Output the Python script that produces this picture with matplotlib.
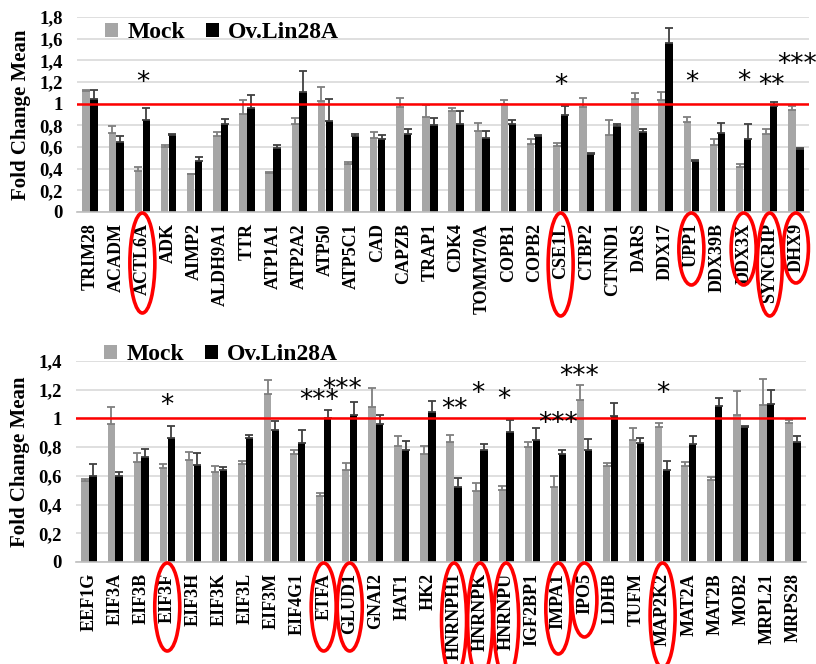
import numpy as np
import matplotlib
matplotlib.use("Agg")
import matplotlib.pyplot as plt
from matplotlib.patches import Ellipse
from matplotlib.transforms import IdentityTransform
from matplotlib.ticker import FuncFormatter, MultipleLocator

# ---------------- data ----------------
top_genes = ["TRIM28", "ACADM", "ACTL6A", "ADK", "AIMP2", "ALDH9A1", "TTR", "ATP1A1",
             "ATP2A2", "ATP50", "ATP5C1", "CAD", "CAPZB", "TRAP1", "CDK4", "TOMM70A",
             "COPB1", "COPB2", "CSE1L", "CTBP2", "CTNND1", "DARS", "DDX17", "UPP1",
             "DDX39B", "DDX3X", "SYNCRIP", "DHX9"]
top_mock = [1.12, 0.73, 0.38, 0.60, 0.35, 0.70, 0.90, 0.36, 0.81, 1.02, 0.44, 0.68, 0.97, 0.88,
            0.93, 0.75, 1.00, 0.63, 0.61, 0.97, 0.71, 1.04, 1.03, 0.83, 0.62, 0.42, 0.72, 0.94]
top_mock_err = [0.005, 0.06, 0.04, 0.02, 0.005, 0.04, 0.13, 0.013, 0.055, 0.13, 0.02, 0.055,
                0.085, 0.11, 0.03, 0.07, 0.03, 0.043, 0.025, 0.08, 0.14, 0.056, 0.075, 0.043,
                0.05, 0.02, 0.05, 0.037]
top_ov = [1.04, 0.65, 0.85, 0.71, 0.475, 0.815, 0.96, 0.59, 1.105, 0.84, 0.70, 0.67, 0.72, 0.80,
          0.815, 0.68, 0.815, 0.70, 0.895, 0.537, 0.79, 0.74, 1.556, 0.47, 0.73, 0.673, 0.975, 0.586]
top_ov_err = [0.09, 0.05, 0.11, 0.01, 0.03, 0.04, 0.12, 0.025, 0.20, 0.20, 0.02, 0.04, 0.045,
              0.07, 0.12, 0.07, 0.03, 0.012, 0.087, 0.004, 0.025, 0.025, 0.14, 0.012, 0.09,
              0.136, 0.04, 0.005]
top_sig = {"ACTL6A": "*", "CSE1L": "*", "UPP1": "*", "DDX3X": "*", "SYNCRIP": "**", "DHX9": "***"}

bot_genes = ["EEF1G", "EIF3A", "EIF3B", "EIF3F", "EIF3H", "EIF3K", "EIF3L", "EIF3M", "EIF4G1",
             "ETFA", "GLUD1", "GNAI2", "HAT1", "HK2", "HNRNPH1", "HNRNPK", "HNRNPU", "IGF2BP1",
             "IMPA1", "IPO5", "LDHB", "TUFM", "MAP2K2", "MAT2A", "MAT2B", "MOB2", "MRPL21", "MRPS28"]
bot_mock = [0.565, 0.963, 0.70, 0.657, 0.713, 0.63, 0.685, 1.171, 0.755, 0.458, 0.644, 1.079,
            0.806, 0.755, 0.833, 0.495, 0.50, 0.801, 0.519, 1.125, 0.667, 0.852, 0.94, 0.667,
            0.574, 1.023, 1.093, 0.968]
bot_mock_err = [0.014, 0.12, 0.056, 0.023, 0.056, 0.04, 0.02, 0.10, 0.023, 0.023, 0.046, 0.13,
                0.074, 0.055, 0.05, 0.056, 0.032, 0.032, 0.083, 0.106, 0.023, 0.083, 0.028,
                0.032, 0.019, 0.167, 0.185, 0.018]
bot_ov = [0.602, 0.597, 0.731, 0.866, 0.676, 0.639, 0.861, 0.921, 0.829, 1.0, 1.023, 0.963,
          0.782, 1.042, 0.523, 0.778, 0.907, 0.847, 0.75, 0.778, 1.019, 0.829, 0.644, 0.819,
          1.088, 0.94, 1.102, 0.838]
bot_ov_err = [0.08, 0.03, 0.056, 0.08, 0.08, 0.023, 0.023, 0.06, 0.088, 0.06, 0.088, 0.06,
              0.06, 0.08, 0.065, 0.046, 0.084, 0.084, 0.028, 0.078, 0.088, 0.032, 0.06, 0.06,
              0.051, 0.01, 0.097, 0.037]
bot_sig = {"EIF3F": "*", "ETFA": "***", "GLUD1": "***", "HNRNPH1": "**", "HNRNPK": "*",
           "HNRNPU": "*", "IMPA1": "***", "IPO5": "***", "MAP2K2": "*"}

# ---------------- layout ----------------
FONT = "Liberation Serif"
MOCK_C = "#a6a6a6"
OV_C = "#000000"
W = 0.28
OFF = 0.15

top_star_pos = {"ACTL6A": (0, 1.19), "CSE1L": (0, 1.16), "UPP1": (0, 1.19), "DDX3X": (0, 1.20),
                "SYNCRIP": (0.05, 1.16), "DHX9": (0.05, 1.36)}
bot_star_pos = {"EIF3F": (0, 1.09), "ETFA": (-0.18, 1.12), "GLUD1": (-0.28, 1.20),
                "HNRNPH1": (0, 1.06), "HNRNPK": (-0.1, 1.17), "HNRNPU": (-0.1, 1.125),
                "IMPA1": (0, 0.96), "IPO5": (-0.2, 1.29), "MAP2K2": (0, 1.17)}
top_ell_h = {"ACTL6A": 100, "CSE1L": 103, "UPP1": 72, "DDX3X": 72, "SYNCRIP": 103, "DHX9": 70}
bot_ell_h = {"EIF3F": 88, "ETFA": 88, "GLUD1": 88, "HNRNPH1": 115, "HNRNPK": 115, "HNRNPU": 115,
             "IMPA1": 91, "IPO5": 74, "MAP2K2": 105}

fig = plt.figure(figsize=(8.16, 6.64), dpi=100)
ax1 = fig.add_axes([77 / 816, 1 - 212 / 664, 732 / 816, 195 / 664])
ax2 = fig.add_axes([76 / 816, 1 - 562 / 664, 730 / 816, 201 / 664])

fmt = FuncFormatter(lambda v, p: ("%g" % round(v, 1)).replace(".", ","))


def panel(ax, genes, mock, mock_err, ov, ov_err, ymax, sig, star_pos, legend_y):
    x = np.arange(len(genes))
    ax.bar(x - OFF, mock, W, color=MOCK_C, label="Mock", zorder=2,
           yerr=[np.zeros(len(x)), mock_err], ecolor="#7f7f7f",
           error_kw=dict(elinewidth=1.3, capsize=2.8, capthick=1.3, zorder=3))
    ax.bar(x + OFF, ov, W, color=OV_C, label="Ov.Lin28A", zorder=2,
           yerr=[np.zeros(len(x)), ov_err], ecolor="#404040",
           error_kw=dict(elinewidth=1.3, capsize=2.8, capthick=1.3, zorder=3))
    ax.axhline(1.0, color="#ff0000", lw=1.8, zorder=4)
    ax.set_xlim(-0.5, len(genes) - 0.5)
    ax.set_ylim(0, ymax)
    ax.yaxis.set_major_locator(MultipleLocator(0.2))
    ax.yaxis.set_major_formatter(fmt)
    ax.grid(axis="y", color="#d9d9d9", lw=1.2, zorder=0)
    ax.set_axisbelow(True)
    for s in ["top", "right", "left"]:
        ax.spines[s].set_visible(False)
    ax.spines["bottom"].set_color("#bfbfbf")
    ax.spines["bottom"].set_linewidth(1.2)
    ax.set_xticks(x)
    ax.set_xticklabels(genes, rotation=90, fontfamily=FONT, fontweight="bold", fontsize=13)
    ax.tick_params(axis="x", length=0, pad=8)
    ax.tick_params(axis="y", length=0, pad=10)
    for lab in ax.get_yticklabels():
        lab.set_fontfamily(FONT)
        lab.set_fontweight("bold")
        lab.set_fontsize(13.5)
    ax.set_ylabel("Fold Change Mean", fontfamily=FONT, fontweight="bold", fontsize=15, labelpad=6)
    for g, s in sig.items():
        i = genes.index(g)
        dx, yy = star_pos[g]
        ax.text(i + dx, yy, s, ha="center", va="center", fontsize=19, fontfamily="DejaVu Sans",
                zorder=5)
    ax.legend(loc="center left", bbox_to_anchor=(0.026, legend_y), ncol=2, frameon=False,
              handlelength=0.55, handleheight=0.55, handletextpad=0.4, columnspacing=0.85,
              prop=dict(family=FONT, weight="bold", size=17), borderaxespad=0)


panel(ax1, top_genes, top_mock, top_mock_err, top_ov, top_ov_err, 1.8, top_sig, top_star_pos, 0.92)
panel(ax2, bot_genes, bot_mock, bot_mock_err, bot_ov, bot_ov_err, 1.4, bot_sig, bot_star_pos, 1.03)

fig.canvas.draw()


def ellipses(ax, genes, heights):
    for g, h in heights.items():
        i = genes.index(g)
        xp, yp = ax.transData.transform((i, 0))
        e = Ellipse((xp, yp - 1 - h / 2), 25, h, transform=IdentityTransform(), fill=False,
                    edgecolor="#ff0000", lw=2.6, clip_on=False)
        fig.add_artist(e)


ellipses(ax1, top_genes, top_ell_h)
ellipses(ax2, bot_genes, bot_ell_h)

fig.savefig("out.png", dpi=100)
